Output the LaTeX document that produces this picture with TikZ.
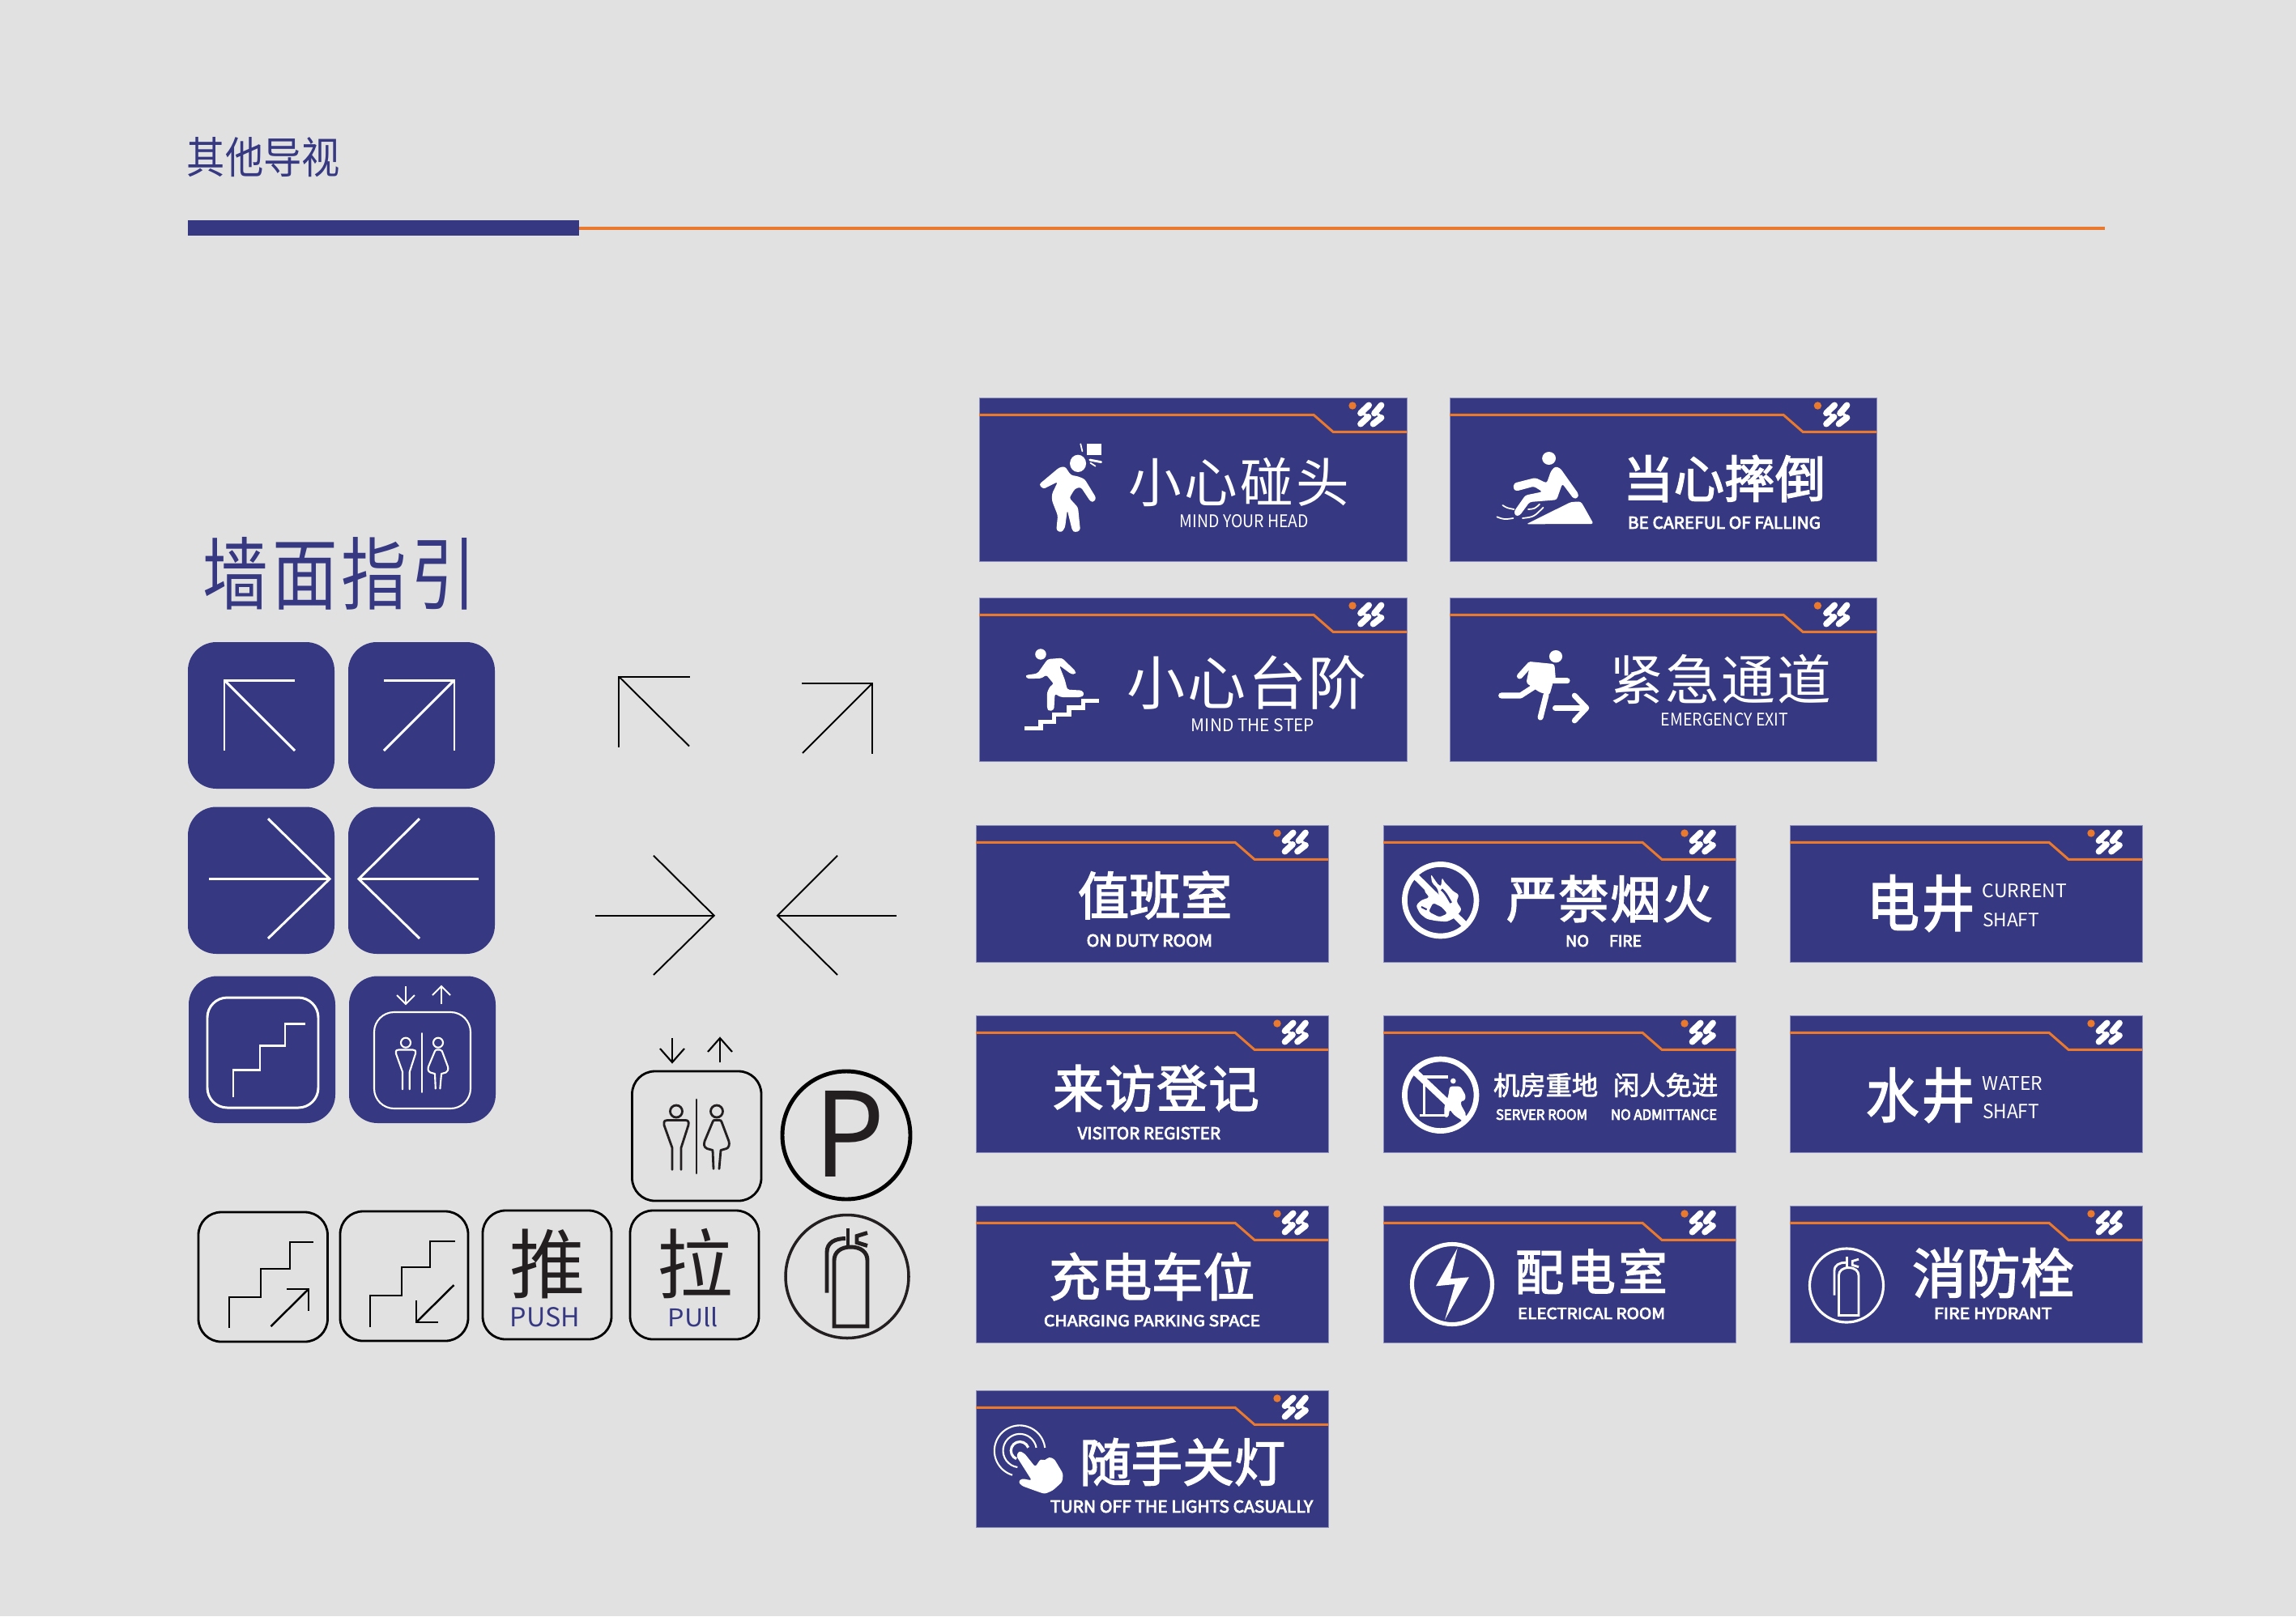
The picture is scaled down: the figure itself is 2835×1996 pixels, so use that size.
\documentclass[tikz,border=0pt]{standalone}
\usepackage{fontspec}
\usepackage{graphicx}
\newfontfamily\zhreg{Noto Sans CJK SC}
\newfontfamily\zhmed{Noto Sans CJK SC}[FakeBold=2.5]
\newfontfamily\zhlat{Noto Sans CJK SC}[FakeBold=4]
\definecolor{navy}{HTML}{363982}
\definecolor{orng}{HTML}{E8792E}
\definecolor{bggray}{HTML}{E1E1E1}
\definecolor{inkk}{HTML}{231F20}
\definecolor{edgec}{HTML}{8C8EBE}
\newcounter{tc}
\tikzset{
  txt/.style={inner sep=0pt,outer sep=0pt,anchor=center},
  wline/.style={draw=white,line width=0.85pt,fill=none},
  bline/.style={draw=black,line width=0.55pt,fill=none},
  boxk/.style={draw=black,line width=0.8pt,fill=none,rounded corners=8pt},
  sq/.style={fill=navy,draw=none,rounded corners=10pt},
  ico/.style={fill=white,draw=none,rounded corners=0.8pt},
  ist/.style={draw=white,fill=none,line cap=round},
  logoa/.style={draw=white,line width=2.2pt,line cap=round},
  logob/.style={draw=white,line width=1pt,line cap=round}
}
% Chinese text fitted to ink box: [font]{colour}{x1}{x2}{y1}{y2}{chars}
\newcommand{\ZH}[7][\zhreg]{\stepcounter{tc}%
  \pgfmathsetmacro\zs{(#6-#5)/0.93*0.28453}%
  \pgfmathsetmacro\zw{(#4-#3+0.06*(#6-#5))*0.28453}%
  \node[txt,text=#2] (t\thetc) at ({(#3+#4)/2},{(#5+#6)/2}) {#1\fontsize{\zs pt}{\zs pt}\selectfont\makebox[\zw pt][s]{#7}};}
% Latin text fitted to ink box
\newcommand{\EN}[7][\zhreg]{\stepcounter{tc}%
  \pgfmathsetmacro\zw{(#4-#3)*0.28453}%
  \pgfmathsetmacro\zh{(#6-#5)*0.28453}%
  \node[txt,text=#2] (t\thetc) at ({(#3+#4)/2},{(#5+#6)/2}) {\resizebox{\zw pt}{\zh pt}{#1\fontsize{20pt}{20pt}\selectfont #7}};}
% sign plate: L T W H dotOffset logoOffset
\newcommand{\Sign}[6]{%
  \begin{scope}[shift={(#1,#2)}]
    \path[fill=navy,draw=edgec,line width=0.25pt] (0,0) rectangle (#3,#4);
    \draw[orng,line width=0.85pt] (0,21.3) -- ({#3-115},21.3) -- ({#3-91},42.3) -- (#3,42.3);
    \fill[orng] ({#3-#5},10) circle[radius=4.7];
    \begin{scope}[shift={({#3-#6},21)}]
      \draw[logoa] (-13,-1.7) -- (-2.8,-11.6);
      \draw[logoa] (-13,11.6) -- (-3.5,2.8);
      \draw[logob] (-11,-2) -- (-3,3);
      \draw[logoa] (4,-1.5) -- (12.5,-11.6);
      \draw[logoa] (2.5,11.6) -- (12.5,3.8);
      \draw[logob] (6,-2) -- (13,3);
    \end{scope}
  \end{scope}}
% man, divider and woman
\newcommand{\Persons}[5]{%
  \begin{scope}[shift={(#1,#2)},scale=#3,color=#4,line width=#5,line join=round,line cap=round]
    \draw (-25,-31) circle[radius=7.5];
    \draw (25,-31) circle[radius=7.5];
    \draw (-30,41) -- (-30,14) -- (-40,-14) .. controls (-41,-20) and (-38,-20) .. (-36,-20) -- (-14,-20) .. controls (-11,-20) and (-9,-19) .. (-10,-14) -- (-19,14) -- (-19,41);
    \draw (0,-45.5) -- (0,45.5);
    \draw (21,40) -- (20,17) -- (13,15) .. controls (9,13) and (9,10) .. (10,6) -- (20,-18) .. controls (21,-20) and (21,-20) .. (22,-20) -- (28,-20) .. controls (30,-20) and (30,-20) .. (31,-18) -- (40,6) .. controls (41,10) and (40,14) .. (37,15) -- (30,17) -- (28,40);
  \end{scope}}
% extinguisher
\newcommand{\Ext}[5]{%
  \begin{scope}[shift={(#1,#2)},scale=#3,color=#4,line width=#5]
    \draw (-16,61.5) -- (-16,-20) .. controls (-16,-30) and (-8,-36.5) .. (4.5,-36.5) .. controls (17,-36.5) and (25,-30) .. (25,-20) -- (25,61.5) -- cycle;
    \draw (-25,20) -- (-25,-30) .. controls (-25,-42) and (-15,-47) .. (-2,-47);
    \draw (1,-60) -- (1,-38);
    \draw (25,-54) -- (12,-50) -- (12,-42) -- (25,-38);
  \end{scope}}
\begin{document}
\begin{tikzpicture}[x=0.01cm,y=-0.01cm]
\useasboundingbox (0,0) rectangle (2835,1996);
\fill[bggray] (0,0) rectangle (2835,1996);

% header
\EN{navy}{231}{420}{172}{217}{其他导视}
\fill[navy] (232,272) rectangle (715,291);
\draw[orng,line width=1.1pt] (715,282) -- (2599,282);

\EN{navy}{251}{588}{667}{749}{墙\hspace{0.06em}面\hspace{0.06em}指\hspace{0.06em}引}

% navy squares
\fill[sq] (232,793) rectangle (413,974);
\fill[sq] (430,793) rectangle (611,974);
\fill[sq] (232,996.5) rectangle (413,1178);
\fill[sq] (430,996.5) rectangle (611,1178);
\fill[sq] (233,1205.5) rectangle (414,1387);
\fill[sq] (431,1205.5) rectangle (612,1387);

\draw[wline] (364,840) -- (277,840) -- (277,927);
\draw[wline] (277,840) -- (364,927);
\draw[wline] (474,840) -- (561,840) -- (561,927);
\draw[wline] (561,840) -- (474,927);
\draw[wline] (258,1085.5) -- (407,1085.5);
\draw[wline] (331,1011) -- (407,1085.5) -- (331,1159);
\draw[wline] (591,1085.5) -- (443,1085.5);
\draw[wline] (518,1011) -- (443,1085.5) -- (518,1159);
\draw[wline,rounded corners=7pt] (256,1232) rectangle (393,1368);
\draw[wline] (288,1354.5) -- (288,1321) -- (321,1321) -- (321,1291) -- (352,1291) -- (352,1264) -- (377,1264);
\draw[white,line width=0.6pt,rounded corners=7pt] (462,1250) rectangle (581,1369);
\draw[white,line width=0.55pt] (501,1218) -- (501,1240);
\draw[white,line width=0.55pt] (490,1229) -- (501,1240) -- (512,1229);
\draw[white,line width=0.55pt] (545,1240) -- (545,1218);
\draw[white,line width=0.55pt] (534,1229) -- (545,1218) -- (556,1229);
\Persons{521}{1312.5}{0.8}{white}{0.6pt}

% free black arrows
\draw[bline] (851.7,835.7) -- (764.3,835.7) -- (764.3,922.7);
\draw[bline] (764.3,835.7) -- (851,921.5);
\draw[bline] (990,844) -- (1077,844) -- (1077,931);
\draw[bline] (1077,844) -- (991,930);
\draw[bline] (735,1130.7) -- (881.7,1130.7);
\draw[bline] (807,1056.7) -- (881.7,1130.7) -- (807,1204);
\draw[bline] (1107,1130.7) -- (960,1130.7);
\draw[bline] (1034,1056.7) -- (960,1130.7) -- (1034,1204);

% black line icons
\draw[black,line width=0.6pt] (830,1282) -- (830,1312);
\draw[black,line width=0.6pt] (815,1295) -- (830,1312) -- (845,1295);
\draw[black,line width=0.6pt] (889,1312) -- (889,1282);
\draw[black,line width=0.6pt] (874,1299) -- (889,1282) -- (904,1299);
\draw[boxk] (780.5,1323) rectangle (940,1483);
\Persons{860}{1403.5}{1}{inkk}{0.8pt}
\draw[black,line width=1.4pt] (1045,1402) circle[radius=79];
\EN{inkk}{1006}{1093}{1347}{1453}{P}

\draw[boxk] (245,1497) rectangle (404.5,1657);
\draw[bline,line width=0.7pt] (283,1640) -- (283,1602) -- (322,1602) -- (322,1567) -- (358,1567) -- (358,1534) -- (387,1534);
\draw[bline,line width=0.7pt] (334.5,1638) -- (381,1592);
\draw[bline,line width=0.7pt] (354,1592) -- (381,1592) -- (381,1619);
\draw[boxk] (420,1496) rectangle (578,1656);
\draw[bline,line width=0.7pt] (457,1639) -- (457,1600) -- (496,1600) -- (496,1565) -- (531,1565) -- (531,1533) -- (562,1533);
\draw[bline,line width=0.7pt] (560.5,1587) -- (514,1633);
\draw[bline,line width=0.7pt] (514,1606) -- (514,1633) -- (541,1633);
\draw[boxk] (596,1495) rectangle (755,1654);
\ZH{inkk}{632}{719.5}{1517}{1604}{推}
\EN{navy}{630}{716}{1615}{1639}{PUSH}
\draw[boxk] (778,1495) rectangle (937,1654);
\ZH{inkk}{814}{901}{1517}{1604}{拉}
\EN{navy}{825}{887}{1615}{1639}{PUll}
\draw[inkk,line width=1pt] (1046,1576.5) circle[radius=76];
\Ext{1046}{1576.5}{1}{inkk}{1.4pt}

% large signs
\Sign{1209}{491}{528}{202}{67}{44}
\Sign{1790}{491}{527}{202}{72.6}{49}
\Sign{1209}{738}{528}{202}{67}{44}
\Sign{1790}{738}{527}{202}{72.6}{49}

\ZH{white}{1395}{1664}{565}{626}{小\hfill 心\hfill 碰\hfill 头}
\EN{white}{1457}{1616}{636}{652}{MIND YOUR HEAD}
\ZH{white}{1393.6}{1686}{810}{877}{小\hfill 心\hfill 台\hfill 阶}
\EN{white}{1471}{1623}{888}{904}{MIND THE STEP}
\ZH[\zhmed]{white}{2006}{2252.5}{562}{620}{当\hfill 心\hfill 摔\hfill 倒}
\EN[\zhlat]{white}{2010}{2248}{638}{653}{BE CAREFUL OF FALLING}
\ZH{white}{1989}{2259}{808}{870}{紧\hfill 急\hfill 通\hfill 道}
\EN{white}{2051}{2208}{881}{897}{EMERGENCY EXIT}

% head-bump figure
\begin{scope}[shift={(1190,470)},xscale=1/2.8,yscale=1/3]
  \fill[white] (426,235) rectangle (475,275);
  \draw[ist,line width=0.5pt] (404,235) -- (410,262);
  \fill[white] (395,307) ellipse[x radius=28,y radius=32];
  \draw[ist,line width=0.8pt] (436,294) -- (475,302);
  \draw[ist,line width=0.5pt] (438,305) -- (455,317);
  \fill[ico] (260,385) -- (330,322) -- (350,318) -- (370,350) -- (395,355) -- (418,365) -- (458,435) -- (450,450) -- (438,448) -- (405,395) -- (385,400) -- (365,435) -- (395,470) -- (403,555) -- (385,563) -- (375,555) -- (358,480) -- (350,545) -- (338,563) -- (320,555) -- (325,500) -- (305,445) -- (305,420) -- (325,375) -- (275,402) -- cycle;
  % stepping figure
  \fill[white] (266,1014) ellipse[x radius=19,y radius=20];
  \fill[ico] (212,1092) -- (255,1085) -- (290,1032) -- (340,1028) -- (388,1078) -- (385,1088) -- (372,1088) -- (330,1055) -- (350,1110) -- (358,1145) -- (410,1148) -- (417,1165) -- (405,1173) -- (335,1173) -- (315,1160) -- (312,1220) -- (295,1225) -- (288,1215) -- (288,1155) -- (300,1130) -- (312,1125) -- (285,1090) -- (270,1103) -- (220,1105) -- cycle;
  \draw[white,line width=1.45pt] (210,1288) -- (266,1288) -- (266,1264) -- (312,1264) -- (312,1237) -- (364,1237) -- (364,1212) -- (412,1212) -- (412,1187) -- (468,1187);
\end{scope}

% falling and running figures
\begin{scope}[shift={(1780,480)},xscale=1/2.851,yscale=1/3]
  \fill[white] (378,258) circle[radius=24];
  \fill[ico] (400,288) -- (418,295) -- (482,390) -- (480,405) -- (465,408) -- (425,352) -- (405,412) -- (310,420) -- (275,470) -- (260,472) -- (255,455) -- (295,395) -- (355,382) -- (325,362) -- (262,380) -- (252,370) -- (255,350) -- (330,330) -- (370,350) -- (385,305) -- cycle;
  \fill[ico] (298,502) -- (455,420) -- (490,418) -- (500,435) -- (535,501) -- cycle;
  \draw[ist,line width=0.5pt] (215,432) .. controls (230,442) .. (255,447);
  \draw[ist,line width=0.5pt] (195,475) .. controls (220,485) .. (252,480);
  \draw[ist,line width=0.5pt] (285,480) .. controls (325,475) .. (358,440);
  \draw[ist,line width=0.5pt] (305,447) .. controls (328,445) .. (345,428);
  \fill[white] (402,992) circle[radius=23];
  \fill[ico] (312,1018) -- (388,1026) -- (392,1090) -- (380,1135) -- (345,1125) -- (298,1090) -- cycle;
  \draw[ist,line width=2pt,line join=round] (275,1065) -- (312,1022) -- (388,1030) -- (392,1082) -- (442,1082);
  \draw[ist,line width=2pt,line join=round] (368,1135) -- (348,1218);
  \draw[ist,line width=2pt,line join=round] (325,1105) -- (278,1137) -- (210,1137);
  \draw[ist,line width=1.9pt] (400,1183) -- (505,1183);
  \draw[ist,line width=1.9pt,line join=round] (468,1137) -- (510,1183) -- (468,1230);
\end{scope}

% small signs
\Sign{1205}{1019}{435}{169.5}{63}{40.5}
\Sign{1708}{1019}{435}{169.5}{63}{40.5}
\Sign{2210}{1019}{435}{169.5}{63}{40.5}
\Sign{1205}{1254}{435}{169.5}{63}{40.5}
\Sign{1708}{1254}{435}{169.5}{63}{40.5}
\Sign{2210}{1254}{435}{169.5}{63}{40.5}
\Sign{1205}{1489}{435}{169.5}{63}{40.5}
\Sign{1708}{1489}{435}{169.5}{63}{40.5}
\Sign{2210}{1489}{435}{169.5}{63}{40.5}
\Sign{1205}{1717}{435}{169.5}{63}{40.5}

\ZH[\zhmed]{white}{1332.7}{1519}{1076}{1135}{值\hfill 班\hfill 室}
\EN[\zhlat]{white}{1341.7}{1497}{1154}{1169}{ON DUTY ROOM}
\ZH[\zhmed]{white}{1302}{1553}{1315}{1373}{来\hfill 访\hfill 登\hfill 记}
\EN[\zhlat]{white}{1330.7}{1507}{1392}{1407}{VISITOR REGISTER}
\ZH[\zhmed]{white}{1297}{1547}{1547}{1606}{充\hfill 电\hfill 车\hfill 位}
\EN[\zhlat]{white}{1289}{1556}{1624}{1638}{CHARGING PARKING SPACE}
\ZH[\zhmed]{white}{1335}{1585}{1776}{1835}{随\hfill 手\hfill 关\hfill 灯}
\EN[\zhlat]{white}{1297}{1621}{1853}{1868}{TURN OFF THE LIGHTS CASUALLY}

\ZH[\zhmed]{white}{1862}{2113}{1081}{1139}{严\hfill 禁\hfill 烟\hfill 火}
\EN[\zhlat]{white}{1933}{1962}{1155}{1169}{NO}
\EN[\zhlat]{white}{1987}{2027}{1155}{1169}{FIRE}
\ZH[\zhmed]{white}{1845}{1972}{1325}{1355}{机\hfill 房\hfill 重\hfill 地}
\ZH[\zhmed]{white}{1993}{2118}{1325}{1355}{闲\hfill 人\hfill 免\hfill 进}
\EN[\zhlat]{white}{1847}{1960}{1370}{1383}{SERVER ROOM}
\EN[\zhlat]{white}{1989}{2120}{1370}{1383}{NO ADMITTANCE}
\ZH[\zhmed]{white}{1872.5}{2057}{1542}{1598}{配\hfill 电\hfill 室}
\EN[\zhlat]{white}{1874}{2056}{1615}{1629}{ELECTRICAL ROOM}

\EN[\zhmed]{white}{2305}{2438}{1084}{1147}{电\hspace{0.05em}井}
\EN{white}{2448}{2552}{1092}{1109}{CURRENT}
\EN{white}{2448}{2518}{1128}{1145}{SHAFT}
\EN[\zhmed]{white}{2304}{2438}{1322}{1383}{水\hspace{0.05em}井}
\EN{white}{2448}{2522}{1329}{1346}{WATER}
\EN{white}{2448}{2518}{1364}{1382}{SHAFT}
\ZH[\zhmed]{white}{2363}{2559}{1541}{1603}{消\hfill 防\hfill 栓}
\EN[\zhlat]{white}{2388}{2533.5}{1615}{1629}{FIRE HYDRANT}

% no-fire icon
\draw[white,line width=1.9pt] (1778.7,1111.7) circle[radius=44.3];
\begin{scope}[shift={(1690,1000)},xscale=1/3,yscale=1/3]
  \fill[ico,even odd rule] (230,238) -- (234,270) -- (255,292) -- (262,325) -- (240,300) -- (218,275) -- (205,300) -- (225,325) -- (195,335) -- (175,355) -- (190,385) -- (215,405) -- (250,412) -- (290,415) -- (320,400) -- (345,370) -- (325,340) -- (335,315) -- (310,300) -- (298,285) -- (280,268) -- (272,250) -- (268,285) -- (255,275) -- cycle
    (238,345) -- (270,360) -- (292,385) -- (262,398) -- (222,378) -- cycle;
  \draw[navy,line width=0.8pt] (270,295) .. controls (285,310) .. (305,345);
  \draw[navy,line width=0.6pt] (195,360) -- (215,370);
  \draw[white,line width=2.3pt] (172,245) -- (360,430);
  % no-admittance icon
  \draw[white,line width=0.9pt] (295,990) -- (205,990) -- (205,1130);
  \draw[white,line width=0.9pt] (190,1132) -- (290,1132);
  \fill[white] (313,1005) circle[radius=10];
  \fill[ico] (300,1025) -- (340,1025) -- (360,1060) -- (355,1080) -- (345,1075) -- (340,1090) -- (362,1130) -- (340,1148) -- (315,1130) -- (300,1110) -- (295,1140) -- (280,1140) -- (280,1100) -- (295,1060) -- cycle;
  \draw[white,line width=2.3pt] (172,972) -- (358,1148);
\end{scope}
\draw[white,line width=1.9pt] (1778.7,1352.3) circle[radius=44.3];

% lightning icon
\draw[white,line width=1.45pt] (1793,1586) circle[radius=49.5];
\fill[white] (1799.5,1541.7) -- (1773,1588.3) -- (1796.4,1586) -- (1784,1630) -- (1813.8,1577.3) -- (1790.9,1579.3) -- cycle;

% hydrant icon
\draw[white,line width=0.9pt] (2280,1587.5) circle[radius=45.5];
\Ext{2280}{1587.5}{0.6}{white}{0.8pt}

% touch icon
\begin{scope}[shift={(1200,1480)},xscale=1/3,yscale=1/3]
  \draw[white,line width=0.6pt] (150,1025) arc[start angle=107,end angle=353,radius=94];
  \draw[white,line width=0.6pt] (169,996) arc[start angle=98,end angle=350,radius=62];
  \draw[white,line width=0.9pt] (165,965) arc[start angle=113,end angle=340,radius=33];
  \fill[ico] (165,955) -- (175,935) -- (195,945) -- (235,995) -- (255,965) -- (270,972) -- (285,958) -- (305,965) -- (338,1020) -- (335,1050) -- (300,1082) -- (270,1095) -- (240,1085) -- (185,1065) -- (172,1050) -- (185,1038) -- (222,1045) -- cycle;
\end{scope}
\end{tikzpicture}
\end{document}
